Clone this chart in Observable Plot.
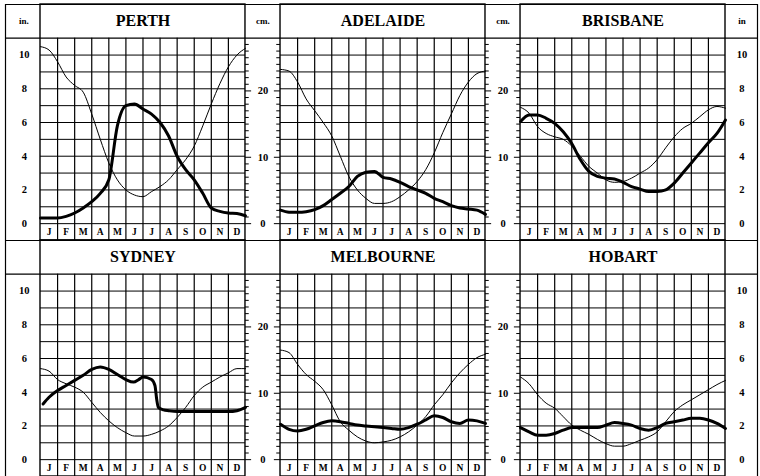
<!DOCTYPE html>
<html><head><meta charset="utf-8">
<script src="https://cdn.jsdelivr.net/npm/d3@7"></script>
<script src="https://cdn.jsdelivr.net/npm/@observablehq/plot@0.6"></script>
<style>body{margin:0;background:#fff}</style>
</head><body><div id="chart"></div>
<script>
const cities = ["PERTH","ADELAIDE","BRISBANE","SYDNEY","MELBOURNE","HOBART"];
const months = ["J","F","M","A","M","J","J","A","S","O","N","D"];
const halfMonths = [0,0.5,1,1.5,2,2.5,3,3.5,4,4.5,5,5.5,6,6.5,7,7.5,8,8.5,9,9.5,10,10.5,11,11.5,12];
const inchTicks = [0,2,4,6,8,10];
const cmTicks = [0,10,20];
const inchHeader = "in.";
const cmHeader = "cm.";
const inchHeaderRight = "in";

// thin curve (inches), sampled every half month
const perthThin     = [10.5,10.3,9.6,8.7,8.2,7.8,6.5,5.0,3.6,2.6,2.0,1.7,1.6,1.9,2.2,2.6,3.2,3.8,4.6,5.8,7.1,8.3,9.3,10.0,10.4];
const adelaideThin  = [9.15,9.05,8.4,7.4,6.7,6.0,5.2,4.0,2.8,2.0,1.5,1.2,1.2,1.3,1.6,2.0,2.5,3.2,4.2,5.4,6.5,7.6,8.4,8.9,9.05];
const brisbaneThin  = [6.9,6.55,5.75,5.35,5.15,5.0,4.6,4.0,3.4,3.0,2.6,2.45,2.5,2.7,3.0,3.3,3.8,4.5,5.15,5.65,5.95,6.35,6.75,6.95,6.85];
const sydneyThin    = [5.4,5.25,4.75,4.5,4.3,4.0,3.4,2.8,2.3,1.9,1.6,1.4,1.4,1.5,1.7,2.0,2.5,3.1,3.8,4.3,4.6,4.9,5.15,5.4,5.4];
const melbourneThin = [6.5,6.35,5.65,5.05,4.65,4.15,3.25,2.25,1.75,1.35,1.1,1.0,1.05,1.15,1.35,1.65,2.05,2.55,3.25,3.85,4.55,5.15,5.65,6.05,6.25];
const hobartThin    = [4.9,4.5,3.85,3.35,3.05,2.55,2.05,1.75,1.5,1.2,0.95,0.8,0.8,0.95,1.15,1.35,1.65,2.25,2.85,3.25,3.55,3.85,4.15,4.45,4.7];

// thick curve (inches)
const perthThick     = [0.33,0.33,0.33,0.43,0.63,0.93,1.3,1.8,2.6,5.8,7.0,7.1,6.8,6.5,6.0,5.2,4.0,3.2,2.6,1.8,0.93,0.73,0.63,0.6,0.47];
const adelaideThick  = [0.8,0.68,0.67,0.71,0.83,1.07,1.43,1.8,2.2,2.8,3.05,3.1,2.75,2.65,2.45,2.2,2.0,1.8,1.5,1.3,1.07,0.93,0.87,0.8,0.55];
const brisbaneThick  = [6.05,6.45,6.45,6.25,5.95,5.45,4.75,3.8,3.1,2.8,2.7,2.65,2.45,2.2,2.05,1.9,1.9,2.0,2.4,3.0,3.6,4.2,4.8,5.35,6.15];
const sydneyThickX   = [0.15,0.5,1,1.5,2,2.5,3,3.5,4,4.5,5,5.45,5.75,6,6.5,6.7,6.8,6.9,7.2,7.5,8,9,10,11,11.5,12];
const sydneyThick    = [3.3,3.7,4.1,4.4,4.7,5.0,5.35,5.5,5.35,5.05,4.75,4.6,4.75,4.9,4.75,4.4,3.6,3.1,2.95,2.9,2.85,2.85,2.85,2.85,2.9,3.1];
const melbourneThick = [2.1,1.8,1.7,1.8,2.0,2.2,2.3,2.25,2.15,2.05,2.0,1.95,1.9,1.85,1.8,1.9,2.1,2.35,2.6,2.5,2.25,2.15,2.35,2.3,2.15];
const hobartThick    = [1.9,1.65,1.45,1.45,1.55,1.75,1.9,1.9,1.9,1.9,2.05,2.2,2.15,2.05,1.85,1.75,1.9,2.15,2.25,2.35,2.45,2.45,2.35,2.15,1.85];

const thinSeries = {PERTH: perthThin, ADELAIDE: adelaideThin, BRISBANE: brisbaneThin, SYDNEY: sydneyThin, MELBOURNE: melbourneThin, HOBART: hobartThin};
const thickSeries = {PERTH: perthThick, ADELAIDE: adelaideThick, BRISBANE: brisbaneThick, SYDNEY: sydneyThick, MELBOURNE: melbourneThick, HOBART: hobartThick};
const thickXs = {SYDNEY: sydneyThickX};

// ---- layout ----
const W = 760, H = 476;
const mL = 40, mR = 35, mT = 4, mB = 0;
const pI = 0.146;
const step = (W - mL - mR) / (3 - pI);
const bw = step * (1 - pI);
const u = bw / 12;            // px per month unit
const gapU = (step - bw) / u; // gap in month units
const leftEdge = -(mL - 5) / u;
const rightEdge = 12 + (mR - 3) / u;
const CM = 2.54;

const panels = cities.map((city, i) => ({city, col: i % 3, row: Math.floor(i / 3)}));

const thinPts = panels.flatMap(p => thinSeries[p.city].map((v, j) => ({...p, x: halfMonths[j], v})));
const thickPts = panels.flatMap(p => {
  const xs = thickXs[p.city] || halfMonths;
  return thickSeries[p.city].map((v, j) => ({...p, x: xs[j], v}));
});

const hGrid = panels.flatMap(p => [0,1,2,3,4,5,6,7,8,9,10].map(y => ({...p, y})));
const vGrid = panels.flatMap(p => [1,2,3,4,5,6,7,8,9,10,11].map(x => ({...p, x})));
const monthCells = panels.flatMap(p => months.map((m, i) => ({...p, x: i + 0.5, m})));

const tableLines = panels.flatMap(p => [-1, 11, 13].map(y => ({
  ...p, y,
  x1: p.col === 0 ? leftEdge : 0,
  x2: p.col === 2 ? rightEdge : 12 + gapU
})));
const outerV = panels.filter(p => p.col !== 1).map(p => ({...p, x: p.col === 0 ? leftEdge : rightEdge}));

// cm ticks in the middle columns
const cmAll = d3.range(0, 28);
const tickMarks = [];
panels.forEach(p => {
  cmAll.forEach(c => {
    const major = cmTicks.includes(c);
    const len = major ? 0.36 : 0.22;
    if (p.col < 2) tickMarks.push({...p, y: c / CM, x1: 12, x2: 12 + len});
    if (p.col > 0) tickMarks.push({...p, y: c / CM, x1: -len, x2: 0});
  });
});

const labels = [];
panels.forEach(p => {
  if (p.col === 0) inchTicks.forEach(t => labels.push({...p, x: -0.95, y: t, t: String(t)}));
  if (p.col === 2) inchTicks.forEach(t => labels.push({...p, x: 12 + gapU * 0.47, y: t, t: String(t)}));
  if (p.col < 2) cmTicks.forEach(t => labels.push({...p, x: 12 + gapU / 2, y: t / CM, t: String(t)}));
});
const headers = [];
panels.filter(p => p.row === 0).forEach(p => {
  if (p.col === 0) headers.push({...p, x: -0.98, t: inchHeader});
  if (p.col < 2) headers.push({...p, x: 12 + gapU / 2, t: cmHeader});
  if (p.col === 2) headers.push({...p, x: 12 + gapU * 0.47, t: inchHeaderRight});
});

const serif = "'Liberation Serif','Times New Roman',serif";
const F = {fx: "col", fy: "row"};

const chart = Plot.plot({
  width: W, height: H,
  marginLeft: mL, marginRight: mR, marginTop: mT, marginBottom: mB,
  fx: {domain: [0,1,2], paddingInner: pI, paddingOuter: 0, round: false, axis: null},
  fy: {domain: [0,1], paddingInner: 0, paddingOuter: 0, round: false, axis: null},
  x: {domain: [0, 12], axis: null},
  y: {domain: [-1, 13], axis: null},
  style: {background: "white", fontFamily: serif, color: "black"},
  marks: [
    Plot.ruleY(hGrid, {...F, y: "y", x1: 0, x2: 12, stroke: "black", strokeWidth: 1}),
    Plot.ruleX(vGrid, {...F, x: "x", y1: -1, y2: 11, stroke: "black", strokeWidth: 1.2}),
    Plot.ruleY(tableLines, {...F, y: "y", x1: "x1", x2: "x2", stroke: "black", strokeWidth: 1.2}),
    Plot.ruleX(outerV, {...F, x: "x", y1: -1, y2: 13, stroke: "black", strokeWidth: 1.2}),
    Plot.rect(panels, {...F, x1: 0, x2: 12, y1: -1, y2: 13, fill: "none", stroke: "black", strokeWidth: 1.4}),
    Plot.ruleY(tickMarks, {...F, y: "y", x1: "x1", x2: "x2", stroke: "black", strokeWidth: 1}),
    Plot.line(thinPts, {...F, x: "x", y: "v", z: "city", curve: "monotone-x", stroke: "black", strokeWidth: 1}),
    Plot.line(thickPts, {...F, x: "x", y: "v", z: "city", curve: "monotone-x", stroke: "black", strokeWidth: 3}),
    Plot.text(panels, {...F, x: 6, y: 12, text: "city", fontSize: 16, fontWeight: "bold", fontFamily: serif, fill: "black"}),
    Plot.text(monthCells, {...F, x: "x", y: -0.5, text: "m", fontSize: 9.5, fontWeight: "bold", fontFamily: serif, fill: "black"}),
    Plot.text(labels, {...F, x: "x", y: "y", text: "t", fontSize: 10.5, fontWeight: "bold", fontFamily: serif, fill: "black"}),
    Plot.text(headers, {...F, x: "x", y: 12, text: "t", fontSize: 9, fontWeight: "bold", fontFamily: serif, fill: "black"})
  ]
});
document.getElementById("chart").appendChild(chart);
</script>
</body></html>
